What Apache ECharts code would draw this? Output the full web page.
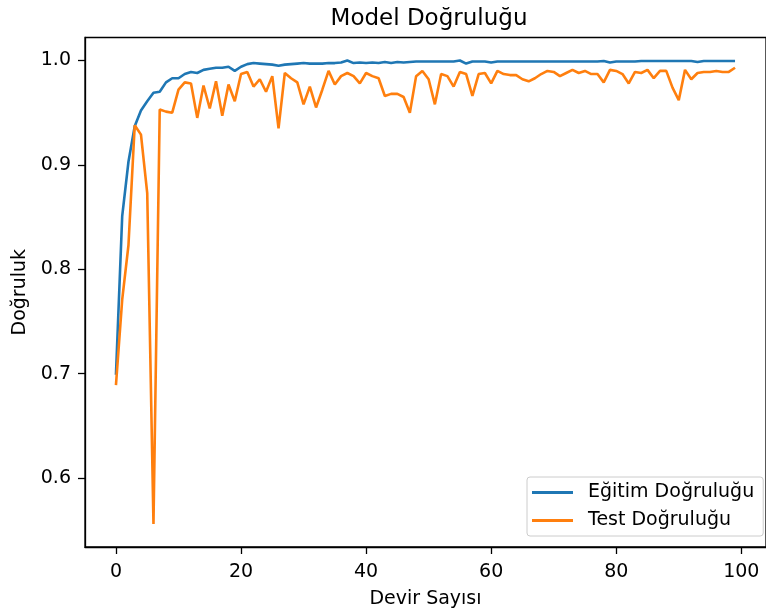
<!DOCTYPE html>
<html>
<head>
<meta charset="utf-8">
<script src="https://cdn.jsdelivr.net/npm/echarts@6/dist/echarts.min.js"></script>
<style>
html,body{margin:0;padding:0;background:#fff;}
#chart{width:766px;height:614px;}
</style>
</head>
<body>
<div id="chart"></div>
<script>
// ---- data ----
const titleText = 'Model Doğruluğu';
const xName = 'Devir Sayısı';
const yName = 'Doğruluk';
const seriesNames = ['Eğitim Doğruluğu', 'Test Doğruluğu'];
const xTicks = [0, 20, 40, 60, 80, 100];
const yTicks = [0.6, 0.7, 0.8, 0.9, 1.0];

const trainAcc = [
  0.699, 0.851, 0.903, 0.937, 0.952, 0.961, 0.969, 0.970, 0.979, 0.983,
  0.983, 0.987, 0.989, 0.988, 0.991, 0.992, 0.993, 0.993, 0.994, 0.990,
  0.994, 0.9965, 0.9975, 0.997, 0.9965, 0.996, 0.995, 0.996, 0.9965, 0.997,
  0.9975, 0.997, 0.997, 0.997, 0.9975, 0.9975, 0.998, 1.000, 0.9975, 0.998,
  0.9975, 0.998, 0.9975, 0.9985, 0.9975, 0.9985, 0.998, 0.9985, 0.999, 0.999,
  0.999, 0.999, 0.999, 0.999, 0.999, 1.000, 0.997, 0.999, 0.999, 0.999,
  0.998, 0.999, 0.999, 0.999, 0.999, 0.999, 0.999, 0.999, 0.999, 0.999,
  0.999, 0.999, 0.999, 0.999, 0.999, 0.999, 0.999, 0.999, 0.9995, 0.998,
  0.999, 0.999, 0.999, 0.999, 0.9995, 0.9995, 0.9995, 0.9995, 0.9995, 0.9995,
  0.9995, 0.9995, 0.9995, 0.9985, 0.9995, 0.9995, 0.9995, 0.9995, 0.9995, 0.9995
];

const testAcc = [
  0.689, 0.771, 0.823, 0.938, 0.929, 0.873, 0.556, 0.953, 0.951, 0.950,
  0.972, 0.979, 0.978, 0.945, 0.976, 0.954, 0.980, 0.947, 0.977, 0.961,
  0.987, 0.989, 0.975, 0.982, 0.970, 0.985, 0.935, 0.988, 0.983, 0.979,
  0.958, 0.975, 0.955, 0.972, 0.990, 0.977, 0.985, 0.988, 0.985, 0.978,
  0.988, 0.985, 0.983, 0.966, 0.968, 0.968, 0.965, 0.950, 0.985, 0.990,
  0.982, 0.958, 0.987, 0.985, 0.975, 0.989, 0.987, 0.966, 0.987, 0.988,
  0.978, 0.990, 0.987, 0.986, 0.986, 0.982, 0.980, 0.983, 0.987, 0.990,
  0.989, 0.985, 0.988, 0.991, 0.988, 0.990, 0.987, 0.987, 0.979, 0.991,
  0.990, 0.987, 0.978, 0.989, 0.988, 0.991, 0.983, 0.990, 0.990, 0.974,
  0.962, 0.991, 0.982, 0.988, 0.989, 0.989, 0.990, 0.989, 0.989, 0.993
];

// ---- chart ----
const FONT = 'DejaVu Sans';
const toPairs = arr => arr.map((v, i) => [i, v]);

const ctx = document.createElement('canvas').getContext('2d');
ctx.font = '23px "DejaVu Sans"';
const titleW = ctx.measureText(titleText).width;
const axisCenterX = 429;

const chart = echarts.init(document.getElementById('chart'), null, {renderer: 'canvas'});
const option = {
  animation: false,
  backgroundColor: '#ffffff',
  title: {
    text: titleText,
    left: axisCenterX - titleW / 2,
    top: 8,
    padding: 0,
    textStyle: {fontFamily: FONT, fontSize: 23, fontWeight: 'normal', color: '#000'}
  },
  grid: {
    left: 85, top: 37.5, width: 688, height: 517,
    show: true, borderColor: '#000', borderWidth: 1.3, backgroundColor: 'transparent',
    containLabel: false
  },
  legend: {
    orient: 'vertical',
    left: 527, top: 477,
    padding: [6, 9, 6, 5],
    itemWidth: 41, itemHeight: 2.8, itemGap: 9,
    icon: 'rect',
    backgroundColor: 'rgba(255,255,255,0.8)',
    borderColor: '#cccccc', borderWidth: 1, borderRadius: 3,
    textStyle: {fontFamily: FONT, fontSize: 19, color: '#000', padding: [0, 0, 0, 10], lineHeight: 19},
    data: seriesNames
  },
  xAxis: {
    type: 'value', min: -4.95, max: 103.95,
    name: xName, nameLocation: 'middle', nameGap: 43,
    nameTextStyle: {fontFamily: FONT, fontSize: 19, color: '#000'},
    axisLine: {show: true, onZero: false, lineStyle: {color: '#000', width: 1.3}},
    axisTick: {show: true, length: 7, lineStyle: {color: '#000', width: 1.3}, customValues: xTicks},
    axisLabel: {fontFamily: FONT, fontSize: 19, color: '#000', margin: 16, customValues: xTicks},
    splitLine: {show: false}
  },
  yAxis: {
    type: 'value', min: 0.534, max: 1.022,
    name: yName, nameLocation: 'middle', nameGap: 47,
    nameTextStyle: {fontFamily: FONT, fontSize: 19, color: '#000'},
    axisLine: {show: true, onZero: false, lineStyle: {color: '#000', width: 1.3}},
    axisTick: {show: true, length: 7, lineStyle: {color: '#000', width: 1.3}, customValues: yTicks},
    axisLabel: {fontFamily: FONT, fontSize: 19, color: '#000', margin: 14, customValues: yTicks,
      formatter: v => v.toFixed(1)},
    splitLine: {show: false}
  },
  series: [
    {name: seriesNames[0], type: 'line', data: toPairs(trainAcc), symbol: 'none',
     lineStyle: {color: '#1f77b4', width: 2.6}, itemStyle: {color: '#1f77b4'}, z: 2},
    {name: seriesNames[1], type: 'line', data: toPairs(testAcc), symbol: 'none',
     lineStyle: {color: '#ff7f0e', width: 2.6}, itemStyle: {color: '#ff7f0e'}, z: 3}
  ]
};
chart.setOption(option);
</script>
</body>
</html>
